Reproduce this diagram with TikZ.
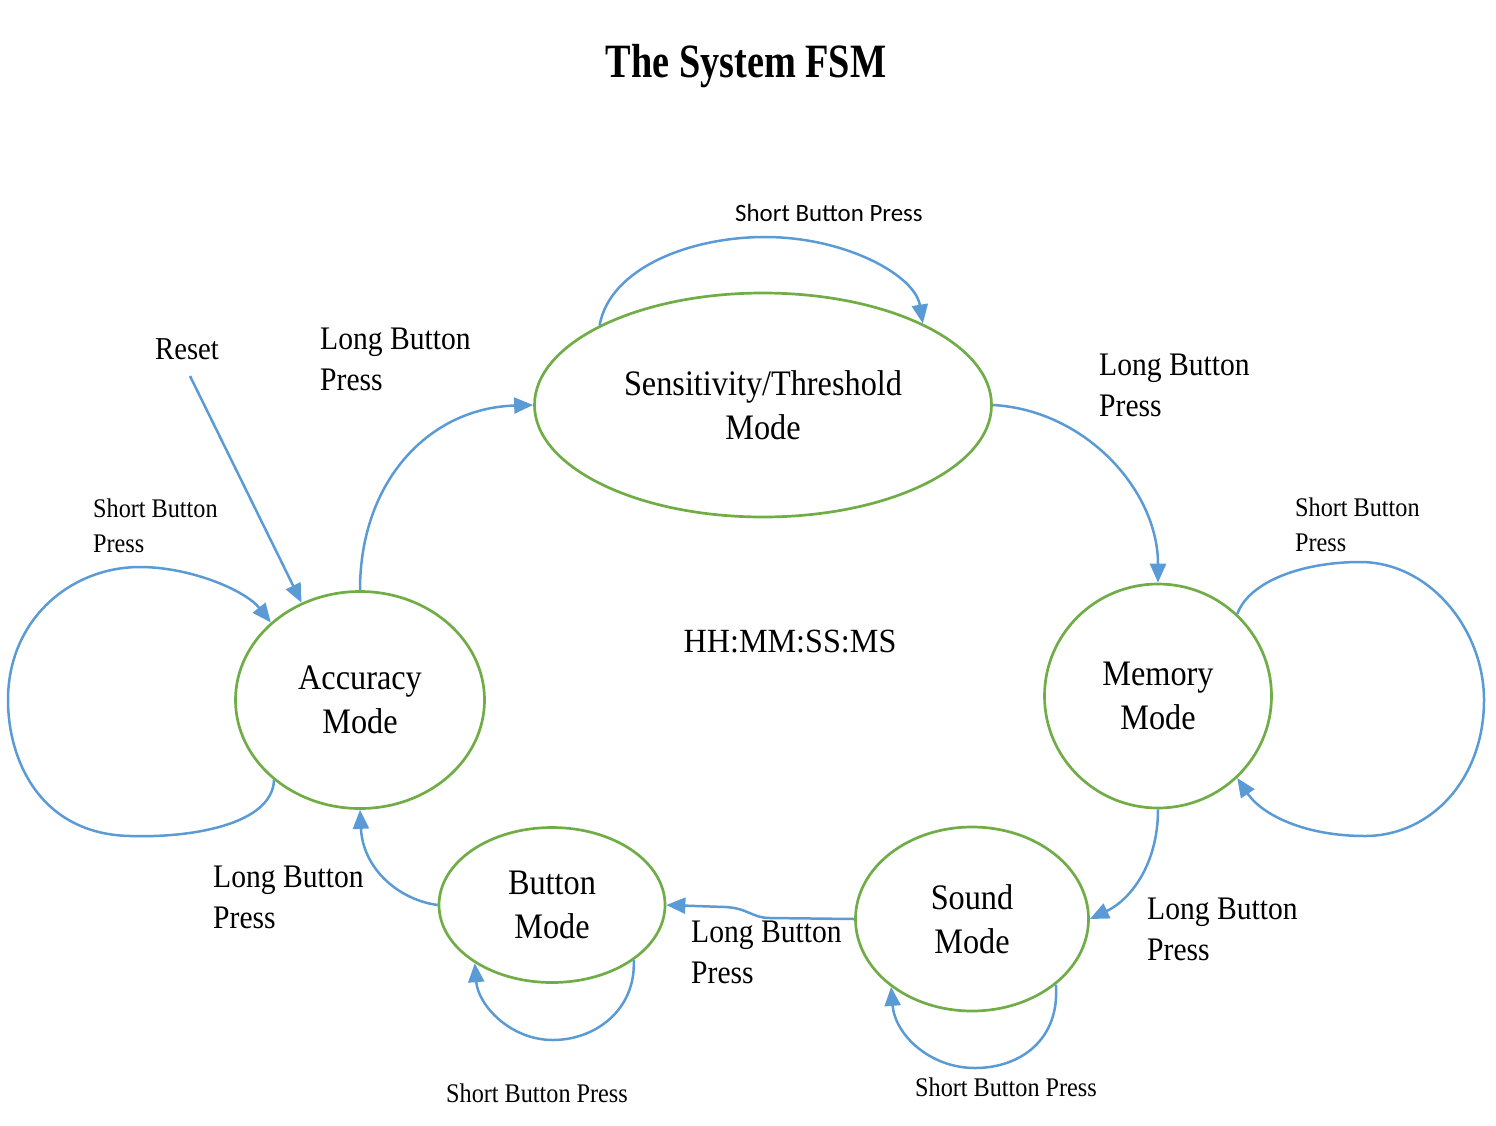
\documentclass[tikz,border=0pt]{standalone}
\usepackage{fontspec}
\setmainfont{Liberation Serif}
\newfontfamily\cnd[FakeStretch=0.9]{Liberation Serif}
\newfontfamily\ttlfont[FakeStretch=0.8]{Liberation Serif}
\newfontfamily\hhfont[FakeStretch=0.95]{Liberation Serif}
\newfontfamily\sansf{Carlito}
\usetikzlibrary{shapes.geometric,arrows.meta}
\definecolor{stgreen}{RGB}{112,173,71}
\definecolor{lnblue}{RGB}{91,155,213}
\tikzset{
 stt/.style={ellipse, draw=stgreen, line width=2.7bp, inner sep=0pt, align=center, font=\cnd\fontsize{36}{44}\selectfont},
 arr/.style={draw=lnblue, line width=2.5bp, -{Triangle[length=19bp,width=16bp]}},
 lbl/.style={align=left, inner sep=0pt, anchor=north west, font=\cnd\fontsize{33}{41}\selectfont},
 slbl/.style={align=left, inner sep=0pt, anchor=north west, font=\cnd\fontsize{27}{35}\selectfont},
}
\begin{document}
\begin{tikzpicture}[x=1bp,y=-1bp]
\useasboundingbox (0,0) rectangle (1496,1125);
% title
\node[font=\ttlfont\bfseries\fontsize{48}{56}\selectfont, anchor=base, inner sep=0pt] (title) at (746,77) {The System FSM};
% states
\node[stt, minimum width=457bp, minimum height=224bp] (sens) at (763,405) {Sensitivity/Threshold\\Mode};
\node[stt, minimum width=249bp, minimum height=217bp] (acc) at (360,700) {Accuracy\\Mode};
\node[stt, minimum width=227bp, minimum height=224bp] (mem) at (1158,696) {Memory\\Mode};
\node[stt, minimum width=233bp, minimum height=184bp] (snd) at (972,919) {Sound\\Mode};
\node[stt, minimum width=226bp, minimum height=155bp] (btn) at (552,905) {Button\\Mode};
% centre text
\node[font=\hhfont\fontsize{34}{40}\selectfont, anchor=base, inner sep=0pt] (hh) at (790,652) {HH:MM:SS:MS};
% labels
\node[font=\cnd\fontsize{32}{38}\selectfont, anchor=north west, inner sep=0pt] (reset) at (155,338) {Reset};
\node[lbl] (l1) at (320,328) {Long Button\\Press};
\node[lbl] (l2) at (1099,354) {Long Button\\Press};
\node[lbl] (l3) at (213,866) {Long Button\\Press};
\node[lbl] (l4) at (691,921) {Long Button\\Press};
\node[lbl] (l5) at (1147,898) {Long Button\\Press};
\node[slbl] (s1) at (93,499) {Short Button\\Press};
\node[slbl] (s2) at (1295,498) {Short Button\\Press};
\node[slbl] (s3) at (446,1084) {Short Button Press};
\node[slbl] (s4) at (915,1078) {Short Button Press};
\node[font=\sansf\fontsize{25}{30}\selectfont, anchor=north west, inner sep=0pt] (s0) at (735,204) {Short Button Press};
% transitions
\coordinate (rs) at (190,376);
\draw[arr] (rs) -- (acc.121);
\draw[arr] (acc.north) .. controls (360,480) and (430,408) .. (sens.west);
\draw[arr] (sens.east) .. controls (1085,410) and (1158,490) .. (mem.north);
\draw[arr] (mem.south) .. controls (1158,865) and (1130,900) .. (snd.east);
\draw[arr] (snd.west) -- (770,918) .. controls (752,918) and (748,908) .. (725,907) -- (btn.east);
\draw[arr] (btn.west) .. controls (400,900) and (363,870) .. (acc.south);
% self loops
\draw[arr] (acc.223) .. controls (272,825) and (190,838) .. (130,836) .. controls (40,834) and (8,760) .. (8,700) .. controls (8,620) and (70,567) .. (140,567) .. controls (190,567) and (245,590) .. (acc.139);
\draw[arr] (mem.46) .. controls (1250,580) and (1305,562) .. (1360,562) .. controls (1430,562) and (1484,630) .. (1484,700) .. controls (1484,780) and (1430,836) .. (1365,836) .. controls (1305,836) and (1262,815) .. (mem.314);
\draw[arr] (sens.154) .. controls (610,268) and (690,237) .. (765,237) .. controls (845,237) and (915,275) .. (sens.27);
\draw[arr] (btn.326) .. controls (636,1010) and (595,1040) .. (553,1040) .. controls (510,1040) and (478,1005) .. (btn.217);
\draw[arr] (snd.322) .. controls (1060,1040) and (1020,1068) .. (975,1068) .. controls (930,1068) and (895,1035) .. (snd.220);
\end{tikzpicture}
\end{document}
